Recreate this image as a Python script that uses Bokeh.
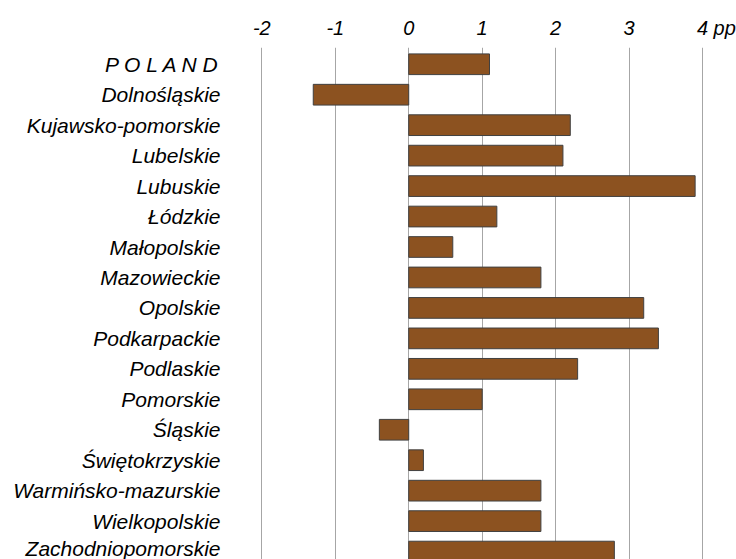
from bokeh.plotting import figure
from bokeh.models import Range1d, FixedTicker
from bokeh.embed import file_html
from bokeh.resources import INLINE

regions = ["P O L A N D", "Dolnośląskie", "Kujawsko-pomorskie", "Lubelskie", "Lubuskie",
           "Łódzkie", "Małopolskie", "Mazowieckie", "Opolskie", "Podkarpackie", "Podlaskie",
           "Pomorskie", "Śląskie", "Świętokrzyskie", "Warmińsko-mazurskie", "Wielkopolskie",
           "Zachodniopomorskie"]
values = [1.1, -1.3, 2.2, 2.1, 3.9, 1.2, 0.6, 1.8, 3.2, 3.4, 2.3, 1.0, -0.4, 0.2, 1.8, 1.8, 2.8]
x_ticks = [-2, -1, 0, 1, 2, 3, 4]
x_tick_labels = ["-2", "-1", "0", "1", "2", "3", "\u00a0\u00a0\u00a0\u00a0\u00a04 pp"]

idx = list(range(len(regions)))

p = figure(width=736, height=559, output_backend="svg", toolbar_location=None,
           x_range=Range1d(-2.1, 4.3), y_range=Range1d(16.26, -0.55),
           x_axis_location="above",
           min_border_left=254, min_border_right=12, min_border_top=47, min_border_bottom=0)
p.outline_line_color = None
p.background_fill_color = "white"
p.border_fill_color = "white"

p.hbar(y=idx, left=0, right=values, height=0.68,
       fill_color="#8C5220", line_color="#404040", line_width=1)

p.ygrid.visible = False
p.xgrid.grid_line_color = "#a6a6a6"
p.xgrid.grid_line_width = 1
p.xgrid.ticker = FixedTicker(ticks=x_ticks)

xa = p.xaxis[0]
xa.ticker = FixedTicker(ticks=x_ticks)
xa.major_label_overrides = {t: l for t, l in zip(x_ticks, x_tick_labels)}
xa.axis_line_color = None
xa.major_tick_line_color = None
xa.minor_tick_line_color = None
xa.major_label_text_font = "Liberation Sans"
xa.major_label_text_font_style = "italic"
xa.major_label_text_font_size = "20px"
xa.major_label_text_color = "black"
xa.major_label_standoff = 3

ya = p.yaxis[0]
ya.ticker = FixedTicker(ticks=idx)
ya.major_label_overrides = {i: r for i, r in zip(idx, regions)}
ya.axis_line_color = None
ya.major_tick_line_color = None
ya.minor_tick_line_color = None
ya.major_label_text_font = "Liberation Sans"
ya.major_label_text_font_style = "italic"
ya.major_label_text_font_size = "21px"
ya.major_label_text_color = "black"
ya.major_label_standoff = 28

open("out.html", "w").write(file_html(p, INLINE))
